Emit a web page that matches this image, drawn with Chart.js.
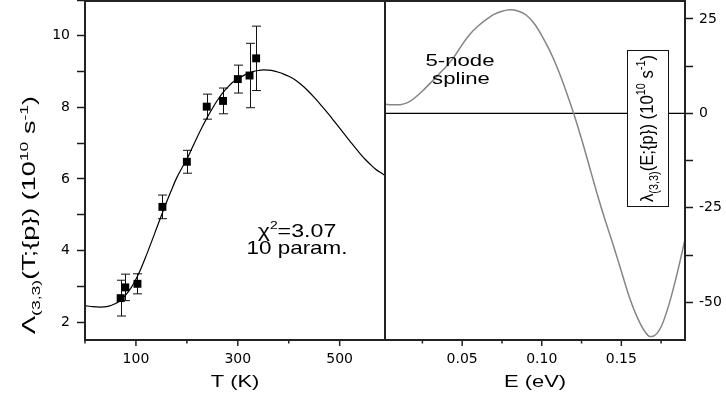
<!DOCTYPE html>
<html>
<head>
<meta charset="utf-8">
<script src="https://cdn.jsdelivr.net/npm/chart.js@4.4.1/dist/chart.umd.min.js"></script>
<style>
  html, body { margin: 0; padding: 0; background: #fff; }
  #box { width: 726px; height: 399px; }
</style>
</head>
<body>
<div id="box"><canvas id="chart" width="726" height="399"></canvas></div>
<script>
// Measured rate Λ(3,3)(T) with error bars
const temperatures = [70, 79, 103, 152, 200, 239, 271, 300, 323, 336];
const rates        = [2.67, 2.97, 3.07, 5.22, 6.48, 8.02, 8.18, 8.79, 8.89, 9.37];
const rateErrors   = [0.5, 0.37, 0.28, 0.33, 0.32, 0.35, 0.36, 0.39, 0.9, 0.9];

// Fitted curve through the measurements
const fitT    = [0, 15, 30, 45, 60, 70, 80, 90, 100, 110, 120, 130, 140, 150, 160, 170, 180, 190,
                 200, 210, 220, 230, 240, 250, 260, 270, 280, 290, 300, 310, 320, 330, 340, 350,
                 360, 370, 380, 390, 400, 410, 420, 430, 440, 450, 460, 470, 480, 490, 500, 510,
                 520, 530, 540, 550, 560, 570, 580, 589];
const fitRate = [2.46, 2.43, 2.42, 2.44, 2.52, 2.61, 2.76, 2.95, 3.2, 3.5, 3.85, 4.22, 4.6, 4.98,
                 5.35, 5.7, 6.03, 6.3, 6.55, 6.86, 7.16, 7.45, 7.72, 7.97, 8.2, 8.4, 8.56, 8.7,
                 8.8, 8.88, 8.95, 9.0, 9.03, 9.05, 9.04, 9.02, 8.98, 8.93, 8.87, 8.79, 8.69, 8.57,
                 8.43, 8.28, 8.12, 7.95, 7.78, 7.6, 7.42, 7.24, 7.06, 6.88, 6.71, 6.55, 6.41, 6.28,
                 6.18, 6.1];

// 5-node spline λ(3,3)(E)
const splineE      = [0.0015, 0.006, 0.011, 0.016, 0.0205, 0.025, 0.03, 0.035, 0.04, 0.045, 0.05,
                      0.055, 0.06, 0.065, 0.07, 0.075, 0.08, 0.085, 0.09, 0.095, 0.1, 0.105, 0.11,
                      0.115, 0.12, 0.125, 0.13, 0.135, 0.14, 0.145, 0.15, 0.155, 0.16, 0.165, 0.168,
                      0.17, 0.175, 0.18, 0.185, 0.19];
const splineLambda = [2.4, 2.25, 2.3, 2.9, 4.2, 5.9, 8.0, 10.2, 12.4, 15.0, 18.2, 21.0, 23.1, 24.8,
                      26.2, 27.0, 27.4, 27.1, 26.1, 23.9, 20.6, 16.6, 11.8, 6.2, 0, -6.8, -14.2,
                      -21.6, -28.5, -35.0, -41.8, -48.6, -54.0, -57.9, -59.1, -59.0, -56.5, -50.5,
                      -42.5, -33.4];
const zeroLevel = [0, 0];

// Axis ranges and labelled ticks
const tRange = [0, 589];
const eRange = [0.0015, 0.19];
const rateRange = [1.5, 11];
const lambdaRange = [-60, 30];
const tLabels = [100, 300, 500];
const eLabels = [0.05, 0.10, 0.15];
const rateLabels = [2, 4, 6, 8, 10];
const lambdaLabels = [-50, -25, 0, 25];

const FONT = '"Liberation Sans", Arial, sans-serif';
const INK = '#1a1a1a';

function near(v, list) { return list.some(l => Math.abs(v - l) < 1e-9); }

// Draws text made of runs (normal / sub / superscript), optionally rotated and stretched
function drawRich(ctx, parts, o) {
  ctx.save();
  ctx.translate(o.x, o.y);
  if (o.rotate) ctx.rotate(o.rotate);
  ctx.fillStyle = '#000';
  ctx.textAlign = 'left';
  ctx.textBaseline = 'alphabetic';
  const widths = parts.map(p => {
    ctx.font = `${(p.scale || 1) * o.size}px ${FONT}`;
    return ctx.measureText(p.text).width;
  });
  const total = widths.reduce((a, b) => a + b, 0);
  const along = o.length ? o.length / total : (o.along || 1);
  ctx.scale(along, o.across || 1);
  let x = -total / 2;
  parts.forEach((p, i) => {
    ctx.font = `${(p.scale || 1) * o.size}px ${FONT}`;
    ctx.fillText(p.text, x, (p.shift || 0) * o.size);
    x += widths[i];
  });
  ctx.restore();
}

const SUB = { scale: 0.65, shift: 0.28 };
const SUP = { scale: 0.65, shift: -0.42 };

function fixSize(prop, value) {
  return s => {
    s[prop] = value;
    s.paddingTop = 0; s.paddingBottom = 0; s.paddingLeft = 0; s.paddingRight = 0;
  };
}

const tickFont = { family: '"DejaVu Sans", sans-serif', size: 14 };

const decorations = {
  id: 'decorations',
  beforeDatasetsDraw(chart) {
    const { ctx } = chart;
    const xs = chart.scales.xT, ys = chart.scales.yL;
    ctx.save();
    ctx.strokeStyle = '#111';
    ctx.lineWidth = 1;
    temperatures.forEach((t, i) => {
      const x = Math.round(xs.getPixelForValue(t)) + 0.5;
      const yTop = ys.getPixelForValue(rates[i] + rateErrors[i]);
      const yBot = ys.getPixelForValue(rates[i] - rateErrors[i]);
      ctx.beginPath();
      ctx.moveTo(x, yTop); ctx.lineTo(x, yBot);
      ctx.moveTo(x - 4.5, yTop); ctx.lineTo(x + 4.5, yTop);
      ctx.moveTo(x - 4.5, yBot); ctx.lineTo(x + 4.5, yBot);
      ctx.stroke();
    });
    ctx.restore();
  },
  afterDraw(chart) {
    const { ctx, chartArea: a } = chart;
    const xT = chart.scales.xT, xE = chart.scales.xE;

    // legend box on the right panel
    const bx = 627.5, by = 50.5, bw = 41, bh = 156;
    ctx.save();
    ctx.fillStyle = '#fff';
    ctx.fillRect(bx, by, bw, bh);
    ctx.strokeStyle = '#111';
    ctx.lineWidth = 1;
    ctx.strokeRect(bx, by, bw, bh);
    ctx.restore();
    drawRich(ctx, [
      { text: 'λ' }, { text: '(3,3)', ...SUB }, { text: '(E;{p}) (10' }, { text: '10', ...SUP },
      { text: ' s' }, { text: '-1', ...SUP }, { text: ')' }
    ], { x: 653, y: 128.5, size: 16, rotate: -Math.PI / 2, length: 147, across: 1.15 });

    // frame: outer box and panel divider
    ctx.save();
    ctx.strokeStyle = '#222';
    ctx.lineWidth = 2;
    ctx.beginPath();
    ctx.moveTo(a.left, a.top + 1); ctx.lineTo(a.right, a.top + 1);
    ctx.moveTo(a.left, a.top); ctx.lineTo(a.left, a.bottom + 1);
    ctx.moveTo(a.right, a.top); ctx.lineTo(a.right, a.bottom + 1);
    ctx.moveTo(a.left - 1, a.bottom); ctx.lineTo(a.right + 1, a.bottom);
    ctx.moveTo(xT.right, a.top); ctx.lineTo(xT.right, a.bottom);
    ctx.stroke();

    // x tick marks: labelled ticks longer than the others
    ctx.lineWidth = 1.5;
    [[xT, tLabels], [xE, eLabels]].forEach(([sc, labels]) => {
      sc.ticks.forEach(t => {
        const x = sc.getPixelForValue(t.value);
        const len = near(t.value, labels) ? 6 : 3.5;
        ctx.beginPath();
        ctx.moveTo(x, a.bottom); ctx.lineTo(x, a.bottom + len);
        ctx.stroke();
      });
    });
    ctx.restore();

    // axis titles
    drawRich(ctx, [{ text: 'T (K)' }], { x: (xT.left + xT.right) / 2, y: 387, size: 16, along: 1.37 });
    drawRich(ctx, [{ text: 'E (eV)' }], { x: (xE.left + xE.right) / 2, y: 387, size: 16, along: 1.37 });
    drawRich(ctx, [
      { text: 'Λ' }, { text: '(3,3)', ...SUB }, { text: '(T;{p}) (10' }, { text: '10', ...SUP },
      { text: ' s' }, { text: '-1', ...SUP }, { text: ')' }
    ], { x: 35, y: 215, size: 16, rotate: -Math.PI / 2, length: 238, across: 1.1 });

    // annotations
    drawRich(ctx, [{ text: 'χ' }, { text: '2', scale: 0.6, shift: -0.42 }, { text: '=3.07' }],
      { x: 297, y: 236.5, size: 19, along: 1.22 });
    drawRich(ctx, [{ text: '10 param.' }], { x: 297, y: 254, size: 19, along: 1.18 });
    drawRich(ctx, [{ text: '5-node' }], { x: 460, y: 65.7, size: 17.3, along: 1.28 });
    drawRich(ctx, [{ text: 'spline' }], { x: 461, y: 84, size: 17.3, along: 1.28 });
  }
};

new Chart(document.getElementById('chart'), {
  type: 'line',
  data: {
    datasets: [
      {
        label: 'measured',
        data: temperatures.map((t, i) => ({ x: t, y: rates[i] })),
        xAxisID: 'xT', yAxisID: 'yL',
        showLine: false,
        pointStyle: 'rect',
        pointRadius: 5.6,
        pointBackgroundColor: '#000',
        pointBorderColor: '#000',
        pointBorderWidth: 0
      },
      {
        label: 'fit',
        data: fitT.map((t, i) => ({ x: t, y: fitRate[i] })),
        xAxisID: 'xT', yAxisID: 'yL',
        borderColor: '#000',
        borderWidth: 1.2,
        pointRadius: 0,
        cubicInterpolationMode: 'monotone'
      },
      {
        label: 'spline',
        data: splineE.map((e, i) => ({ x: e, y: splineLambda[i] })),
        xAxisID: 'xE', yAxisID: 'yR',
        borderColor: '#858585',
        borderWidth: 1.5,
        pointRadius: 0,
        cubicInterpolationMode: 'monotone'
      },
      {
        label: 'zero',
        data: eRange.map((e, i) => ({ x: e, y: zeroLevel[i] })),
        xAxisID: 'xE', yAxisID: 'yR',
        borderColor: '#000',
        borderWidth: 1.4,
        pointRadius: 0
      }
    ]
  },
  options: {
    responsive: false,
    animation: false,
    devicePixelRatio: 1,
    layout: { padding: 0, autoPadding: false },
    plugins: { legend: { display: false }, tooltip: { enabled: false } },
    scales: {
      xT: {
        type: 'linear', position: 'bottom', stack: 'panels', stackWeight: 1,
        min: tRange[0], max: tRange[1],
        grid: { display: false, drawTicks: false },
        border: { display: false },
        ticks: {
          stepSize: 100, includeBounds: false, autoSkip: false, maxRotation: 0,
          padding: 11, color: '#000', font: tickFont,
          callback: v => near(v, tLabels) ? String(v) : ''
        },
        afterFit: fixSize('height', 59)
      },
      xE: {
        type: 'linear', position: 'bottom', stack: 'panels', stackWeight: 1,
        min: eRange[0], max: eRange[1],
        grid: { display: false, drawTicks: false },
        border: { display: false },
        ticks: {
          stepSize: 0.025, includeBounds: false, autoSkip: false, maxRotation: 0,
          padding: 11, color: '#000', font: tickFont,
          callback: v => near(v, eLabels) ? v.toFixed(2) : ''
        },
        afterFit: fixSize('height', 59)
      },
      yL: {
        type: 'linear', position: 'left',
        min: rateRange[0], max: rateRange[1],
        grid: { drawOnChartArea: false, drawTicks: true, tickLength: 8, tickColor: INK, tickWidth: 1.5 },
        border: { display: false },
        ticks: {
          stepSize: 1, includeBounds: false, autoSkip: false,
          padding: 7, color: '#000', font: tickFont,
          callback: v => near(v, rateLabels) ? String(v) : ''
        },
        afterFit: fixSize('width', 85)
      },
      yR: {
        type: 'linear', position: 'right',
        min: lambdaRange[0], max: lambdaRange[1],
        grid: { drawOnChartArea: false, drawTicks: true, tickLength: 8, tickColor: INK, tickWidth: 1.5 },
        border: { display: false },
        ticks: {
          stepSize: 12.5, includeBounds: false, autoSkip: false,
          padding: 6, color: '#000', font: tickFont,
          callback: v => near(v, lambdaLabels) ? String(v) : ''
        },
        afterFit: fixSize('width', 41)
      }
    }
  },
  plugins: [decorations]
});
</script>
</body>
</html>
